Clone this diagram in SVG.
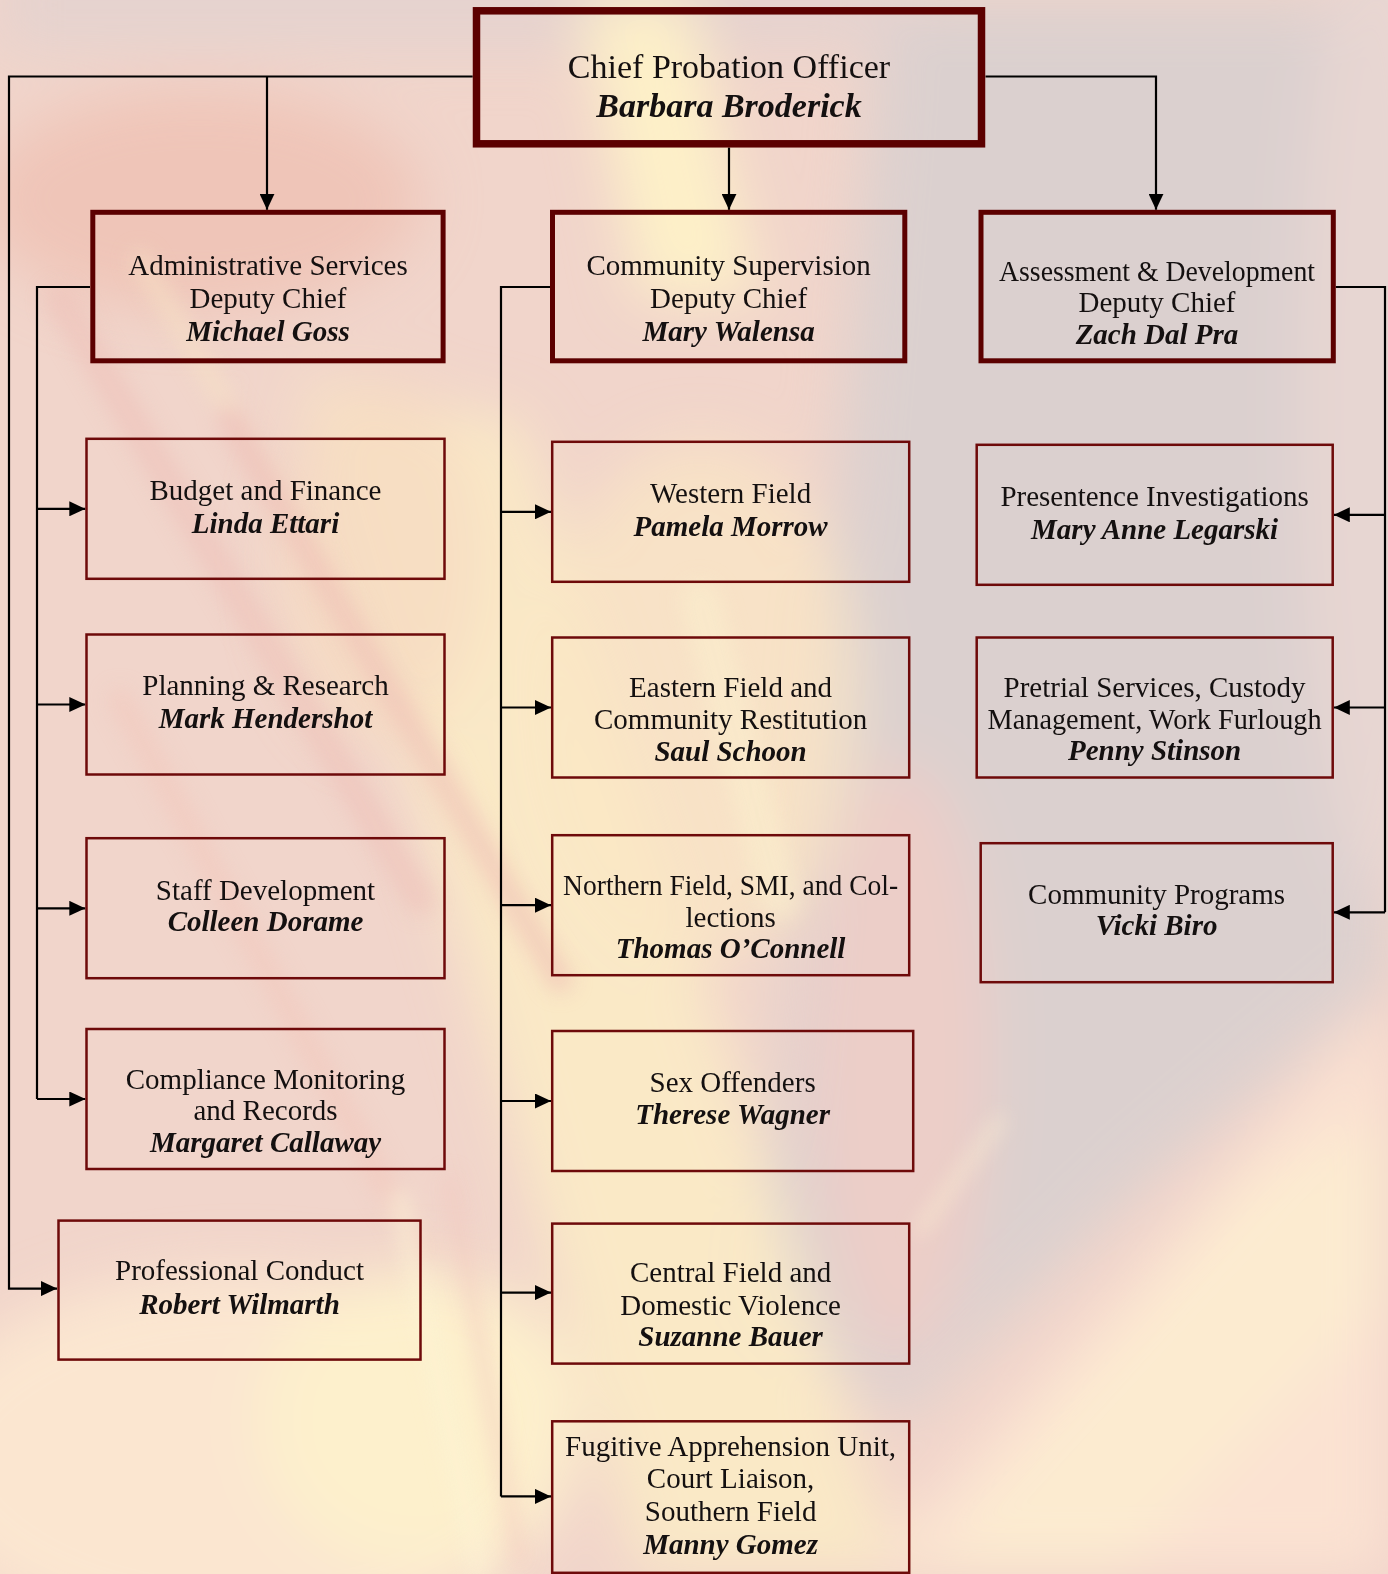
<svg xmlns="http://www.w3.org/2000/svg" width="1388" height="1574" viewBox="0 0 1388 1574">
<defs>
<style>
.thick{fill:none;stroke:#5c0000;stroke-width:5}
.top{fill:none;stroke:#5c0000;stroke-width:7.5}
.thin{fill:none;stroke:#6e0a0a;stroke-width:2.5}
.t{font-family:"Liberation Serif",serif;font-size:29px;text-anchor:middle;fill:#141010}
.big{font-size:34px}
.n{font-style:italic;font-weight:bold}
.conn{fill:none;stroke:#000;stroke-width:2.2}
</style>
<marker id="ah" markerUnits="userSpaceOnUse" markerWidth="16" markerHeight="15" refX="16" refY="7.5" orient="auto">
<path d="M0,0 L16,7.5 L0,15 z" fill="#000"/>
</marker>
<filter id="blur" x="-10%" y="-10%" width="120%" height="120%"><feGaussianBlur stdDeviation="28"/></filter>
<filter id="blur2" x="-10%" y="-10%" width="120%" height="120%"><feGaussianBlur stdDeviation="10"/></filter>
</defs>
<g id="background">
<rect width="1388" height="1574" fill="#f1d5cb"/>
<g filter="url(#blur)">
<polygon points="880,0 1388,0 1388,980 1150,1180 900,1420 760,1300 820,700" fill="#dbd0cf"/>
<rect x="0" y="-40" width="900" height="90" fill="#e2d2cf" opacity="0.8"/>
<polygon points="860,1574 1388,1000 1388,1574" fill="#fbe2d2"/>
<polygon points="920,1574 1250,1180 1388,1120 1388,1300 1120,1574" fill="#fdedd0" opacity="0.8"/>
<ellipse cx="240" cy="1460" rx="330" ry="190" fill="#fbe6d0"/>
<ellipse cx="420" cy="1420" rx="160" ry="150" fill="#fdf0cc"/>
<path d="M580,0 L690,0 L760,300 L640,300 z" fill="#fdf0c8"/>
<path d="M300,380 L520,420 L900,1574 L640,1574 z" fill="#fcecc6" opacity="0.85"/>
<ellipse cx="700" cy="700" rx="160" ry="260" fill="#fbe7c4" opacity="0.7"/>
<ellipse cx="200" cy="200" rx="220" ry="110" fill="#efc5b8"/>
<ellipse cx="380" cy="560" rx="100" ry="180" fill="#f6dcc2" opacity="0.8"/>
<ellipse cx="900" cy="1060" rx="90" ry="300" fill="#f4cdc4" opacity="0.7"/>
<ellipse cx="1380" cy="400" rx="80" ry="500" fill="#e7d6d2"/>
</g>
<g filter="url(#blur2)" opacity="0.55" stroke-linecap="round">
<path d="M60,300 L420,900" stroke="#eec0b8" stroke-width="30"/>
<path d="M140,260 L500,860" stroke="#f7e2c4" stroke-width="20"/>
<path d="M230,420 L560,980" stroke="#eebcb4" stroke-width="26"/>
<path d="M120,700 L420,1250" stroke="#f3c7bc" stroke-width="24"/>
<path d="M400,1200 L480,1574" stroke="#fdf4d6" stroke-width="18"/>
<path d="M450,1180 L520,1560" stroke="#f2c6bd" stroke-width="14"/>
<path d="M700,600 L780,900" stroke="#fbefce" stroke-width="40"/>
<path d="M1000,1120 L920,1230" stroke="#fdf0d2" stroke-width="12"/>
</g>
</g>
<g id="connectors" class="conn">
<path d="M472.7,76.5 H9 V1288.6 H57" marker-end="url(#ah)"/>
<path d="M267,76.5 V209.8" marker-end="url(#ah)"/>
<path d="M729,147.5 V209.8" marker-end="url(#ah)"/>
<path d="M985.5,76.5 H1156 V209.8" marker-end="url(#ah)"/>
<path d="M90,287 H37 V1099"/>
<path d="M37,508.8 H85.3" marker-end="url(#ah)"/>
<path d="M37,704.5 H85.3" marker-end="url(#ah)"/>
<path d="M37,908.3 H85.3" marker-end="url(#ah)"/>
<path d="M37,1099 H85.3" marker-end="url(#ah)"/>
<path d="M550,287 H501 V1496.4"/>
<path d="M501,511.8 H551" marker-end="url(#ah)"/>
<path d="M501,707.5 H551" marker-end="url(#ah)"/>
<path d="M501,905.2 H551" marker-end="url(#ah)"/>
<path d="M501,1101 H551" marker-end="url(#ah)"/>
<path d="M501,1292.6 H551" marker-end="url(#ah)"/>
<path d="M501,1496.4 H551" marker-end="url(#ah)"/>
<path d="M1335.8,287 H1385 V912.3"/>
<path d="M1385,514.8 H1333.8" marker-end="url(#ah)"/>
<path d="M1385,707.5 H1333.8" marker-end="url(#ah)"/>
<path d="M1385,912.3 H1333.8" marker-end="url(#ah)"/>
</g>
<g id="chief">
<rect class="top" x="476.5" y="10.8" width="505" height="133"/>
<text class="t big" x="729" y="78">Chief Probation Officer</text>
<text class="t big n" x="729" y="117">Barbara Broderick</text>
</g>
<g id="admin-deputy">
<rect class="thick" x="92.8" y="212.3" width="350.3" height="148.5"/>
<text class="t" x="268" y="275">Administrative Services</text>
<text class="t" x="268" y="308">Deputy Chief</text>
<text class="t n" x="268" y="341">Michael Goss</text>
</g>
<g id="community-deputy">
<rect class="thick" x="552.5" y="212.3" width="352.3" height="148.5"/>
<text class="t" x="728.6" y="275">Community Supervision</text>
<text class="t" x="728.6" y="308">Deputy Chief</text>
<text class="t n" x="728.6" y="341">Mary Walensa</text>
</g>
<g id="assessment-deputy">
<rect class="thick" x="981" y="212.3" width="352.3" height="148.5"/>
<text class="t" x="1157" y="281" textLength="316" lengthAdjust="spacingAndGlyphs">Assessment &amp; Development</text>
<text class="t" x="1157" y="312">Deputy Chief</text>
<text class="t n" x="1157" y="344">Zach Dal Pra</text>
</g>
<g id="budget">
<rect class="thin" x="86.5" y="438.8" width="358" height="140"/>
<text class="t" x="265.5" y="500">Budget and Finance</text>
<text class="t n" x="265.5" y="533">Linda Ettari</text>
</g>
<g id="planning">
<rect class="thin" x="86.5" y="634.5" width="358" height="140"/>
<text class="t" x="265.5" y="695">Planning &amp; Research</text>
<text class="t n" x="265.5" y="728">Mark Hendershot</text>
</g>
<g id="staff">
<rect class="thin" x="86.5" y="838.2" width="358" height="140"/>
<text class="t" x="265.5" y="900">Staff Development</text>
<text class="t n" x="265.5" y="931">Colleen Dorame</text>
</g>
<g id="compliance">
<rect class="thin" x="86.5" y="1029" width="358" height="140"/>
<text class="t" x="265.5" y="1089">Compliance Monitoring</text>
<text class="t" x="265.5" y="1120">and Records</text>
<text class="t n" x="265.5" y="1152">Margaret Callaway</text>
</g>
<g id="professional">
<rect class="thin" x="58.5" y="1220.6" width="362" height="139"/>
<text class="t" x="239.5" y="1280">Professional Conduct</text>
<text class="t n" x="239.5" y="1314">Robert Wilmarth</text>
</g>
<g id="western">
<rect class="thin" x="552.2" y="441.8" width="357" height="140"/>
<text class="t" x="730.6" y="503">Western Field</text>
<text class="t n" x="730.6" y="536">Pamela Morrow</text>
</g>
<g id="eastern">
<rect class="thin" x="552.2" y="637.5" width="357" height="140"/>
<text class="t" x="730.6" y="697">Eastern Field and</text>
<text class="t" x="730.6" y="729">Community Restitution</text>
<text class="t n" x="730.6" y="761">Saul Schoon</text>
</g>
<g id="northern">
<rect class="thin" x="552.2" y="835.2" width="357" height="140"/>
<text class="t" x="730.6" y="895" textLength="335" lengthAdjust="spacingAndGlyphs">Northern Field, SMI, and Col-</text>
<text class="t" x="730.6" y="927">lections</text>
<text class="t n" x="730.6" y="958">Thomas O’Connell</text>
</g>
<g id="sex-offenders">
<rect class="thin" x="552.2" y="1031" width="361" height="140"/>
<text class="t" x="732.6" y="1092">Sex Offenders</text>
<text class="t n" x="732.6" y="1124">Therese Wagner</text>
</g>
<g id="central">
<rect class="thin" x="552.2" y="1223.6" width="357" height="140"/>
<text class="t" x="730.6" y="1282">Central Field and</text>
<text class="t" x="730.6" y="1315">Domestic Violence</text>
<text class="t n" x="730.6" y="1346">Suzanne Bauer</text>
</g>
<g id="fugitive">
<rect class="thin" x="552.2" y="1421.3" width="357" height="151.5"/>
<text class="t" x="730.6" y="1456">Fugitive Apprehension Unit,</text>
<text class="t" x="730.6" y="1488">Court Liaison,</text>
<text class="t" x="730.6" y="1521">Southern Field</text>
<text class="t n" x="730.6" y="1554">Manny Gomez</text>
</g>
<g id="presentence">
<rect class="thin" x="976.7" y="444.8" width="356" height="140"/>
<text class="t" x="1154.6" y="506">Presentence Investigations</text>
<text class="t n" x="1154.6" y="539">Mary Anne Legarski</text>
</g>
<g id="pretrial">
<rect class="thin" x="976.7" y="637.5" width="356" height="140"/>
<text class="t" x="1154.6" y="697">Pretrial Services, Custody</text>
<text class="t" x="1154.6" y="729" textLength="334" lengthAdjust="spacingAndGlyphs">Management, Work Furlough</text>
<text class="t n" x="1154.6" y="760">Penny Stinson</text>
</g>
<g id="community-programs">
<rect class="thin" x="980.7" y="843.2" width="352" height="139"/>
<text class="t" x="1156.6" y="904">Community Programs</text>
<text class="t n" x="1156.6" y="935">Vicki Biro</text>
</g>
</svg>
